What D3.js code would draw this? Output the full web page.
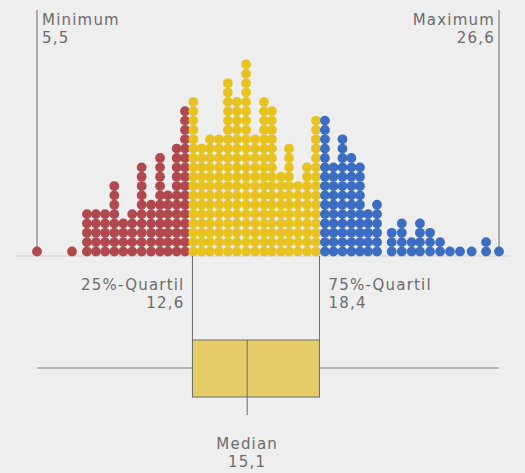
<!DOCTYPE html>
<html>
<head>
<meta charset="utf-8">
<script src="https://cdn.jsdelivr.net/npm/d3@7"></script>
<style>
  body { margin: 0; background: #eeeeee; }
  svg { display: block; }
  text { font-family: "DejaVu Sans", sans-serif; fill: #6c6c6c; }
</style>
</head>
<body>
<svg></svg>
<script>
const WIDTH = 525;
const HEIGHT = 473;

// summary values
const minimum = 5.5;
const q1 = 12.6;
const median = 15.1;
const q3 = 18.4;
const maximum = 26.6;

// dot columns: bin value and number of dots, one array pair per quartile group
const lowValues = [5.5, 7.1, 7.78, 8.19, 8.61, 9.03, 9.44, 9.85, 10.28, 10.71, 11.12, 11.48, 11.88, 12.26];
const lowCounts = [1, 1, 5, 5, 5, 8, 4, 5, 10, 6, 11, 7, 12, 16];

const midValues = [12.64, 13.02, 13.4, 13.81, 14.22, 14.63, 15.05, 15.46, 15.87, 16.23, 16.64, 17.01, 17.42, 17.83, 18.24];
const midCounts = [17, 12, 13, 13, 19, 17, 21, 13, 17, 16, 9, 12, 8, 10, 15];

const highValues = [18.65, 19.04, 19.45, 19.86, 20.25, 20.62, 21.03, 21.7, 22.16, 22.61, 22.99, 23.45, 23.91, 24.36, 24.82, 25.35, 26.01, 26.6];
const highCounts = [15, 10, 13, 11, 10, 5, 6, 3, 4, 2, 4, 3, 2, 1, 1, 1, 2, 1];

const groups = [
  { values: lowValues, counts: lowCounts, color: "#b1484e" },
  { values: midValues, counts: midCounts, color: "#e8c21e" },
  { values: highValues, counts: highCounts, color: "#3b6dc3" },
];

const dotR = 4.9;
const baseY = 256;
const boxTop = 340;
const boxBottom = 397;
const whiskerY = 368;
const medianBottom = 415;

var de = d3.formatLocale({ decimal: ",", thousands: ".", grouping: [3], currency: ["", "€"] });
var fmt = de.format(".1f");

var svg = d3.select("svg").attr("width", WIDTH).attr("height", HEIGHT);

var x = d3.scaleLinear().domain([minimum, maximum]).range([37, 499]);
// row index -> y of dot centre
var y = d3.scaleLinear().domain([0, 20]).range([251.5, 64.5]);

// baseline
svg.append("line")
  .attr("x1", 15).attr("x2", 510)
  .attr("y1", baseY).attr("y2", baseY)
  .attr("stroke", "#d2d2d2").attr("stroke-width", 1);

// min / max markers
[minimum, maximum].forEach(function (v) {
  svg.append("line")
    .attr("x1", x(v)).attr("x2", x(v))
    .attr("y1", 10).attr("y2", y(0))
    .attr("stroke", "#6a6a6a").attr("stroke-width", 1);
});

// dots
groups.forEach(function (g) {
  var dots = [];
  g.values.forEach(function (v, i) {
    for (var k = 0; k < g.counts[i]; k++) dots.push({ v: v, k: k });
  });
  svg.append("g").selectAll("circle")
    .data(dots)
    .enter()
    .append("circle")
    .attr("cx", (d) => x(d.v))
    .attr("cy", (d) => y(d.k))
    .attr("r", dotR)
    .attr("fill", g.color);
});

// quartile connectors
[q1, q3].forEach(function (q) {
  svg.append("line")
    .attr("x1", x(q)).attr("x2", x(q))
    .attr("y1", baseY).attr("y2", boxTop)
    .attr("stroke", "#6a6a6a").attr("stroke-width", 1);
});

// whisker
svg.append("line")
  .attr("x1", x(minimum)).attr("x2", x(maximum))
  .attr("y1", whiskerY).attr("y2", whiskerY)
  .attr("stroke", "#7a7a7a").attr("stroke-width", 1);

// box
svg.append("rect")
  .attr("x", x(q1)).attr("y", boxTop)
  .attr("width", x(q3) - x(q1)).attr("height", boxBottom - boxTop)
  .attr("fill", "#e7cd6a")
  .attr("stroke", "#6a6a6a").attr("stroke-width", 1);

svg.append("line")
  .attr("x1", x(median)).attr("x2", x(median))
  .attr("y1", boxTop).attr("y2", medianBottom)
  .attr("stroke", "#6a6a6a").attr("stroke-width", 1);

// labels
const fontSize = 15;
function label(txt, lx, ly, anchor) {
  svg.append("text")
    .attr("x", lx).attr("y", ly)
    .attr("font-size", fontSize)
    .attr("letter-spacing", 1.2)
    .attr("text-anchor", anchor)
    .text(txt);
}

label("Minimum", x(minimum) + 5, 25, "start");
label(fmt(minimum), x(minimum) + 5, 43, "start");
label("Maximum", x(maximum) - 4, 25, "end");
label(fmt(maximum), x(maximum) - 4, 43, "end");

label("25%-Quartil", x(q1) - 8, 290, "end");
label(fmt(q1), x(q1) - 8, 308, "end");
label("75%-Quartil", x(q3) + 9, 290, "start");
label(fmt(q3), x(q3) + 9, 308, "start");

label("Median", x(median), 449, "middle");
label(fmt(median), x(median), 467, "middle");
</script>
</body>
</html>
